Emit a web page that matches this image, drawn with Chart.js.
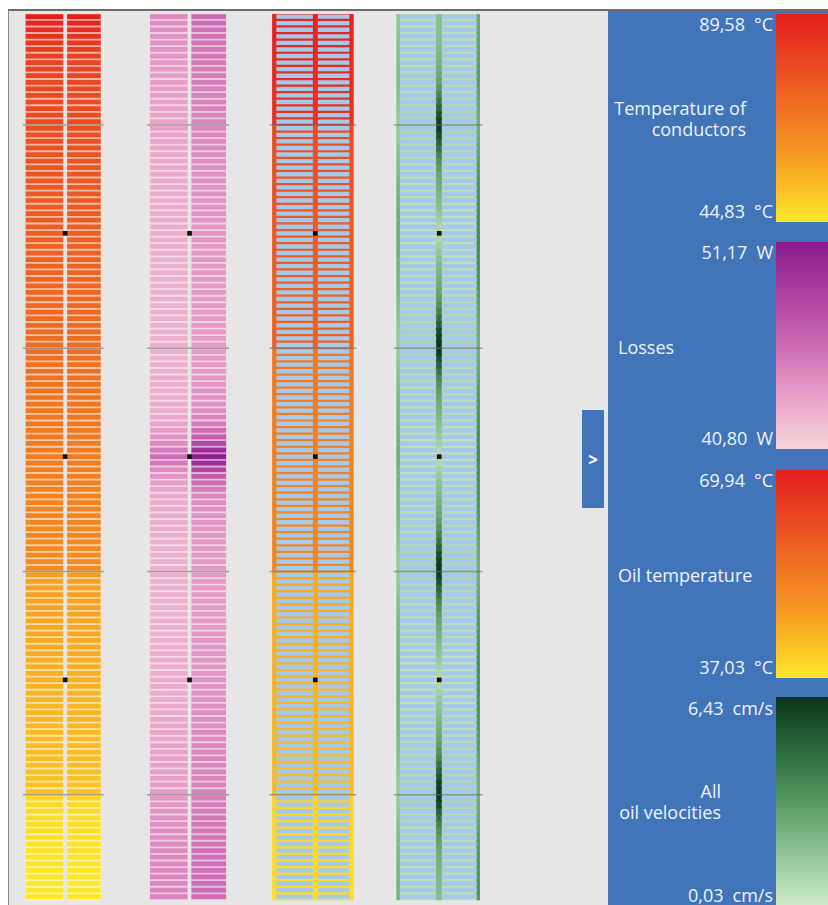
<!DOCTYPE html>
<html>
<head>
<meta charset="utf-8">
<script src="https://cdn.jsdelivr.net/npm/chart.js@4.4.1/dist/chart.umd.min.js"></script>
<style>
  html, body { margin: 0; padding: 0; background: #fff; }
  body { width: 828px; height: 905px; position: relative; overflow: hidden; font-family: "Open Sans", "Noto Sans", sans-serif; }
  #frame { position: absolute; left: 8px; top: 9px; width: 820px; height: 896px; background: #e6e6e6;
           border-top: 2px solid #6c6c6c; border-left: 1px solid #8a8a8a; box-sizing: border-box; }
  #plot { position: absolute; left: 0; top: 10px; }
  #panel { position: absolute; left: 608px; top: 11px; width: 220px; height: 894px; background: #4274ba; }
  .cbar { position: absolute; left: 776px; width: 52px; }
  .lbl { position: absolute; color: #eef3fb; font-size: 18px; line-height: 21px; white-space: pre; }
  .val { right: 55px; text-align: right; }
  .unit { margin-left: 9px; }
  #toggle { position: absolute; left: 582px; top: 410px; width: 22px; height: 98px; background: #4274ba;
            color: #fff; font: bold 17px "Open Sans", sans-serif; display: flex; align-items: center; justify-content: center; }
</style>
</head>
<body>
<div id="frame"></div>
<canvas id="plot" width="608" height="895"></canvas>
<div id="toggle">&gt;</div>
<div id="panel"></div>

<div class="cbar" id="bar-temp" style="top:14px;height:208px"></div>
<div class="cbar" id="bar-loss" style="top:242px;height:207px"></div>
<div class="cbar" id="bar-oil"  style="top:470px;height:208px"></div>
<div class="cbar" id="bar-vel"  style="top:697px;height:208px"></div>

<div class="lbl val" id="temp-max" style="top:14px"></div>
<div class="lbl val" id="temp-min" style="top:201px"></div>
<div class="lbl val" id="loss-max" style="top:242px"></div>
<div class="lbl val" id="loss-min" style="top:428px"></div>
<div class="lbl val" id="oil-max"  style="top:470px"></div>
<div class="lbl val" id="oil-min"  style="top:657px"></div>
<div class="lbl val" id="vel-max"  style="top:698px"></div>
<div class="lbl val" id="vel-min"  style="top:885px"></div>

<div class="lbl" style="right:82px;top:98px;text-align:right">Temperature of
conductors</div>
<div class="lbl" style="left:618px;top:337px">Losses</div>
<div class="lbl" style="left:618px;top:565px">Oil temperature</div>
<div class="lbl" style="right:107px;top:781px;text-align:right">All
oil velocities</div>

<script>
// colour scale limits (as printed on the legend)
const tempRange = [44.83, 89.58];
const lossRange = [40.80, 51.17];
const oilRange  = [37.03, 69.94];
const velRange  = [0.03, 6.43];

// one value per disc row, top to bottom (135 rows, 5 sections)
const tempRows = [
  89.4, 87.5, 85.8, 84.4, 83.2, 82.2, 81.4, 80.7, 80.1, 79.6,
  79.2, 78.8, 78.5, 78.2, 78.0, 77.8, 77.6,
  77.3, 77.0, 76.8, 76.5, 76.3, 76.0, 75.8, 75.5, 75.3, 75.0,
  74.8, 74.5, 74.3, 74.0, 73.8, 73.6, 73.4, 73.2, 72.9, 72.7,
  72.5, 72.3, 72.0, 71.8, 71.6, 71.4, 71.2, 71.0, 70.8, 70.6,
  70.4, 70.2, 70.0, 69.8,
  69.4, 69.2, 69.0, 68.8, 68.6, 68.4, 68.2, 68.0, 67.8, 67.6,
  67.4, 67.2, 67.0, 66.8, 66.6, 66.4, 66.2, 66.0, 65.8, 65.6,
  65.4, 65.2, 65.0, 64.8, 64.6, 64.4, 64.2, 64.0, 63.8, 63.6,
  63.4, 63.2, 63.0, 62.8,
  58.6, 58.3, 58.0, 57.8, 57.5, 57.2, 57.0, 56.7, 56.5, 56.2,
  56.0, 55.8, 55.5, 55.3, 55.1, 54.9, 54.7, 54.5, 54.3, 54.1,
  53.9, 53.7, 53.5, 53.3, 53.1, 52.9, 52.7, 52.6, 52.4, 52.2,
  52.1, 51.9, 51.8, 51.6,
  48.0, 47.6, 47.3, 47.0, 46.7, 46.5, 46.3, 46.1, 45.9, 45.7,
  45.6, 45.4, 45.3, 45.2, 45.1, 45.0
];

const lossLeft = [
  44.6, 44.4, 44.3, 44.2, 44.1, 44.0, 43.9, 43.8, 43.8, 43.7,
  43.7, 43.6, 43.6, 43.5, 43.5, 43.4, 43.4,
  43.4, 43.3, 43.3, 43.2, 43.2, 43.1, 43.1, 43.1, 43.0, 43.0,
  43.0, 42.9, 42.9, 42.9, 42.9, 42.8, 42.8, 42.8, 42.8, 42.8,
  42.7, 42.7, 42.7, 42.7, 42.7, 42.7, 42.7, 42.7, 42.7, 42.7,
  42.7, 42.7, 42.7, 42.7,
  42.7, 42.7, 42.7, 42.7, 42.8, 42.8, 42.8, 42.9, 42.9, 43.0,
  43.1, 43.3, 43.6, 44.0, 44.6, 45.3, 45.8, 45.3, 44.6, 44.0,
  43.6, 43.3, 43.1, 43.0, 42.9, 42.9, 42.8, 42.8, 42.8, 42.7,
  42.7, 42.7, 42.7, 42.7,
  42.7, 42.7, 42.7, 42.7, 42.7, 42.7, 42.7, 42.7, 42.7, 42.7,
  42.8, 42.8, 42.8, 42.8, 42.9, 42.9, 42.9, 43.0, 43.0, 43.0,
  43.1, 43.1, 43.2, 43.2, 43.3, 43.3, 43.4, 43.4, 43.5, 43.5,
  43.6, 43.6, 43.7, 43.7,
  43.8, 43.9, 44.0, 44.1, 44.2, 44.3, 44.4, 44.4, 44.5, 44.5,
  44.6, 44.6, 44.7, 44.7, 44.8, 44.8
];

const lossRight = [
  46.2, 46.0, 45.8, 45.7, 45.6, 45.5, 45.4, 45.3, 45.2, 45.2,
  45.1, 45.0, 45.0, 44.9, 44.9, 44.8, 44.8,
  44.7, 44.6, 44.5, 44.5, 44.4, 44.3, 44.3, 44.2, 44.2, 44.1,
  44.1, 44.0, 44.0, 44.0, 43.9, 43.9, 43.9, 43.9, 43.8, 43.8,
  43.8, 43.8, 43.8, 43.8, 43.8, 43.8, 43.8, 43.8, 43.8, 43.8,
  43.8, 43.8, 43.8, 43.8,
  43.8, 43.8, 43.8, 43.8, 43.9, 43.9, 44.0, 44.1, 44.2, 44.4,
  44.7, 45.2, 45.9, 46.9, 48.3, 49.8, 50.9, 49.8, 48.3, 46.9,
  45.9, 45.2, 44.7, 44.4, 44.2, 44.1, 44.0, 43.9, 43.9, 43.8,
  43.8, 43.8, 43.8, 43.8,
  43.8, 43.8, 43.8, 43.8, 43.8, 43.8, 43.8, 43.8, 43.8, 43.8,
  43.9, 43.9, 43.9, 44.0, 44.0, 44.0, 44.1, 44.1, 44.2, 44.2,
  44.3, 44.3, 44.4, 44.4, 44.5, 44.5, 44.6, 44.6, 44.7, 44.7,
  44.8, 44.8, 44.9, 44.9,
  45.0, 45.1, 45.2, 45.3, 45.4, 45.5, 45.6, 45.6, 45.7, 45.7,
  45.8, 45.8, 45.9, 45.9, 46.0, 46.0
];

const oilRows = [
  69.5, 69.2, 68.9, 68.6, 68.4, 68.2, 68.0, 67.8, 67.6, 67.4,
  67.2, 67.0, 66.8, 66.6, 66.5, 66.4, 66.3,
  61.5, 61.3, 61.1, 60.9, 60.7, 60.5, 60.4, 60.2, 60.0, 59.9,
  59.7, 59.6, 59.4, 59.3, 59.1, 59.0, 58.9, 58.7, 58.6, 58.5,
  58.4, 58.3, 58.2, 58.1, 58.0, 57.9, 57.8, 57.7, 57.7, 57.6,
  57.5, 57.5, 57.4, 57.4,
  53.5, 53.4, 53.3, 53.2, 53.1, 53.0, 52.9, 52.8, 52.7, 52.6,
  52.5, 52.4, 52.3, 52.2, 52.1, 52.0, 51.9, 51.8, 51.8, 51.7,
  51.6, 51.5, 51.5, 51.4, 51.3, 51.2, 51.2, 51.1, 51.0, 51.0,
  50.9, 50.8, 50.8, 50.7,
  45.6, 45.5, 45.4, 45.3, 45.2, 45.1, 45.0, 44.9, 44.8, 44.7,
  44.6, 44.5, 44.4, 44.3, 44.2, 44.1, 44.0, 43.9, 43.8, 43.8,
  43.7, 43.6, 43.5, 43.5, 43.4, 43.3, 43.3, 43.2, 43.1, 43.1,
  43.0, 43.0, 42.9, 42.9,
  39.8, 39.7, 39.6, 39.5, 39.4, 39.3, 39.2, 39.1, 39.0, 38.9,
  38.8, 38.7, 38.6, 38.5, 38.4, 38.3
];

// cm/s in the horizontal ducts, the centre channel and the two edge channels
const velDuct = [
  0.5, 0.5, 0.5, 0.5, 0.5, 0.5, 0.5, 0.5, 0.5, 0.6,
  0.6, 0.6, 0.6, 0.7, 0.7, 0.8, 0.9,
  0.9, 0.8, 0.7, 0.7, 0.6, 0.6, 0.6, 0.5, 0.5, 0.5,
  0.5, 0.5, 0.4, 0.4, 0.4, 0.4, 0.4, 0.4, 0.4, 0.4,
  0.4, 0.5, 0.5, 0.5, 0.5, 0.5, 0.6, 0.6, 0.6, 0.7,
  0.7, 0.8, 0.8, 0.9,
  0.9, 0.8, 0.7, 0.7, 0.6, 0.6, 0.6, 0.5, 0.5, 0.5,
  0.5, 0.5, 0.4, 0.4, 0.4, 0.4, 0.4, 0.4, 0.4, 0.4,
  0.4, 0.5, 0.5, 0.5, 0.5, 0.5, 0.6, 0.6, 0.6, 0.7,
  0.7, 0.8, 0.8, 0.9,
  0.9, 0.8, 0.7, 0.7, 0.6, 0.6, 0.6, 0.5, 0.5, 0.5,
  0.5, 0.5, 0.4, 0.4, 0.4, 0.4, 0.4, 0.4, 0.4, 0.4,
  0.4, 0.5, 0.5, 0.5, 0.5, 0.5, 0.6, 0.6, 0.6, 0.7,
  0.7, 0.8, 0.8, 0.9,
  0.9, 0.8, 0.7, 0.7, 0.6, 0.6, 0.6, 0.5, 0.5, 0.5,
  0.5, 0.5, 0.5, 0.5, 0.5, 0.5
];

const velCenter = [
  1.8, 1.8, 1.8, 1.9, 1.9, 2.0, 2.1, 2.2, 2.4, 2.6,
  2.9, 3.3, 3.8, 4.4, 5.0, 5.6, 6.2,
  6.3, 5.8, 5.2, 4.6, 4.0, 3.5, 3.1, 2.8, 2.6, 2.4,
  2.2, 2.0, 1.8, 1.5, 1.2, 0.9, 0.6, 0.9, 1.2, 1.5,
  1.8, 2.0, 2.2, 2.4, 2.6, 2.8, 3.1, 3.5, 4.0, 4.6,
  5.2, 5.8, 6.2, 6.4,
  6.3, 5.7, 5.1, 4.5, 3.9, 3.4, 3.0, 2.7, 2.5, 2.3,
  2.1, 1.9, 1.7, 1.4, 1.1, 0.8, 0.5, 0.8, 1.1, 1.4,
  1.7, 1.9, 2.1, 2.3, 2.5, 2.7, 3.0, 3.4, 3.9, 4.5,
  5.1, 5.7, 6.1, 6.3,
  6.2, 5.6, 5.0, 4.4, 3.9, 3.4, 3.0, 2.7, 2.5, 2.3,
  2.1, 1.9, 1.7, 1.4, 1.1, 0.8, 0.5, 0.8, 1.1, 1.4,
  1.7, 1.9, 2.1, 2.3, 2.5, 2.7, 3.0, 3.4, 3.9, 4.5,
  5.1, 5.6, 6.0, 6.2,
  6.3, 5.8, 5.2, 4.6, 4.0, 3.5, 3.1, 2.8, 2.6, 2.4,
  2.3, 2.2, 2.1, 2.0, 2.0, 1.9
];

const velEdgeL = [
  1.6, 1.6, 1.7, 1.7, 1.8, 1.8, 1.9, 1.9, 2.0, 2.0,
  2.0, 1.9, 1.8, 1.7, 1.6, 1.5, 1.4,
  1.4, 1.5, 1.6, 1.7, 1.8, 1.9, 2.0, 2.1, 2.2, 2.3,
  2.3, 2.4, 2.4, 2.5, 2.5, 2.5, 2.5, 2.5, 2.5, 2.5,
  2.4, 2.4, 2.3, 2.3, 2.2, 2.1, 2.0, 1.9, 1.8, 1.7,
  1.6, 1.5, 1.4, 1.4,
  1.4, 1.5, 1.6, 1.7, 1.8, 1.9, 2.0, 2.1, 2.2, 2.2,
  2.3, 2.3, 2.4, 2.4, 2.4, 2.5, 2.5, 2.5, 2.4, 2.4,
  2.4, 2.3, 2.3, 2.2, 2.2, 2.1, 2.0, 1.9, 1.8, 1.7,
  1.6, 1.5, 1.4, 1.4,
  1.4, 1.5, 1.6, 1.7, 1.8, 1.9, 2.0, 2.1, 2.1, 2.2,
  2.2, 2.3, 2.3, 2.4, 2.4, 2.4, 2.4, 2.4, 2.4, 2.3,
  2.3, 2.3, 2.2, 2.2, 2.1, 2.0, 2.0, 1.9, 1.8, 1.7,
  1.6, 1.5, 1.4, 1.4,
  1.4, 1.5, 1.6, 1.7, 1.8, 1.9, 2.0, 2.0, 2.1, 2.1,
  2.2, 2.2, 2.2, 2.3, 2.3, 2.3
];

const velEdgeR = [
  2.6, 2.6, 2.7, 2.7, 2.8, 2.8, 2.9, 2.9, 3.0, 3.0,
  3.0, 2.9, 2.8, 2.7, 2.6, 2.5, 2.4,
  2.4, 2.5, 2.6, 2.7, 2.8, 2.9, 3.0, 3.1, 3.2, 3.3,
  3.3, 3.4, 3.4, 3.5, 3.5, 3.5, 3.5, 3.5, 3.5, 3.5,
  3.4, 3.4, 3.3, 3.3, 3.2, 3.1, 3.0, 2.9, 2.8, 2.7,
  2.6, 2.5, 2.4, 2.4,
  2.4, 2.5, 2.6, 2.7, 2.8, 2.9, 3.0, 3.1, 3.2, 3.2,
  3.3, 3.3, 3.4, 3.4, 3.4, 3.5, 3.5, 3.5, 3.4, 3.4,
  3.4, 3.3, 3.3, 3.2, 3.2, 3.1, 3.0, 2.9, 2.8, 2.7,
  2.6, 2.5, 2.4, 2.4,
  2.4, 2.5, 2.6, 2.7, 2.8, 2.9, 3.0, 3.1, 3.1, 3.2,
  3.2, 3.3, 3.3, 3.4, 3.4, 3.4, 3.4, 3.4, 3.4, 3.3,
  3.3, 3.3, 3.2, 3.2, 3.1, 3.0, 3.0, 2.9, 2.8, 2.7,
  2.6, 2.5, 2.4, 2.4,
  2.4, 2.5, 2.6, 2.7, 2.8, 2.9, 3.0, 3.0, 3.1, 3.1,
  3.2, 3.2, 3.2, 3.3, 3.3, 3.3
];

// section boundaries (between disc rows) and the rows carrying a probe dot
const sectionEdges = [16.5, 50.5, 84.5, 118.5];
const probeRows = [33, 67, 101];

// colour ramps, low -> high
const heatStops = ['#fde72a', '#f8a923', '#f07822', '#ea4a22', '#e4201f'];
const lossStops = ['#f8d4da', '#e8a2c8', '#cc6cb4', '#ac42a0', '#8a1a8a'];
const flowStops = ['#cdeac6', '#8ec496', '#569860', '#2a6a3c', '#0a3519'];
const discBlue = '#a6c9ea';

// horizontal layout of the four winding columns (x scale units = px)
const layout = {
  temp: { left: [22, 60], right: [64, 98] },
  loss: { left: [148, 186], right: [190, 225] },
  oil:  { full: [272, 354], left: [276, 313], right: [318, 350] },
  vel:  { full: [398, 482], edgeL: [398, 401], center: [438, 443.5], edgeR: [479, 482], left: [401, 438], right: [443.5, 479] },
  spans: [[19, 101], [145, 228], [269, 357], [395, 485]],
  probeX: [62, 188, 315.5, 441]
};

function hexRgb(h) {
  return [1, 3, 5].map(i => parseInt(h.slice(i, i + 2), 16));
}

function ramp(stops, range, v) {
  let t = (v - range[0]) / (range[1] - range[0]);
  t = Math.max(0, Math.min(1, t)) * (stops.length - 1);
  const i = Math.min(stops.length - 2, Math.floor(t));
  const f = t - i;
  const a = hexRgb(stops[i]), b = hexRgb(stops[i + 1]);
  return a.map((x, k) => Math.round(x + (b[k] - x) * f));
}

const css  = c => `rgb(${c[0]},${c[1]},${c[2]})`;
const tint = (c, w) => css(c.map(x => Math.round(x + (255 - x) * w)));

const rows = tempRows.map((_, i) => i);

function bars(span, colors, pct, order) {
  return {
    type: 'bar',
    indexAxis: 'y',
    data: rows.map(r => ({ x: span, y: r })),
    backgroundColor: colors,
    borderWidth: 0,
    barPercentage: pct,
    categoryPercentage: 1,
    grouped: false,
    order: order
  };
}

const tempCol  = tempRows.map(v => ramp(heatStops, tempRange, v));
const lossLCol = lossLeft.map(v => ramp(lossStops, lossRange, v));
const lossRCol = lossRight.map(v => ramp(lossStops, lossRange, v));
const oilCol   = oilRows.map(v => css(ramp(heatStops, oilRange, v)));
const flow     = arr => arr.map(v => css(ramp(flowStops, velRange, v)));

const probePts = [];
layout.probeX.forEach(x => probeRows.forEach(r => probePts.push({ x: x, y: r })));

const datasets = [
  // conductor temperature
  bars(layout.temp.left,  tempCol.map(c => tint(c, 0.6)), 1, 3),
  bars(layout.temp.right, tempCol.map(c => tint(c, 0.6)), 1, 3),
  bars(layout.temp.left,  tempCol.map(css), 0.72, 1),
  bars(layout.temp.right, tempCol.map(css), 0.72, 1),
  // losses
  bars(layout.loss.left,  lossLCol.map(c => tint(c, 0.55)), 1, 3),
  bars(layout.loss.right, lossRCol.map(c => tint(c, 0.55)), 1, 3),
  bars(layout.loss.left,  lossLCol.map(css), 0.72, 1),
  bars(layout.loss.right, lossRCol.map(css), 0.72, 1),
  // oil temperature in the ducts, discs on top
  bars(layout.oil.full,  oilCol, 1, 3),
  bars(layout.oil.left,  rows.map(() => discBlue), 0.66, 1),
  bars(layout.oil.right, rows.map(() => discBlue), 0.66, 1),
  // oil velocities
  bars(layout.vel.full,   flow(velDuct), 1, 3),
  bars(layout.vel.edgeL,  flow(velEdgeL), 1, 2),
  bars(layout.vel.center, flow(velCenter), 1, 2),
  bars(layout.vel.edgeR,  flow(velEdgeR), 1, 2),
  bars(layout.vel.left,   rows.map(() => discBlue), 0.66, 1),
  bars(layout.vel.right,  rows.map(() => discBlue), 0.66, 1),
  {
    type: 'scatter',
    data: probePts,
    pointStyle: 'rect',
    pointRadius: 3.3,
    pointBorderWidth: 0,
    backgroundColor: '#111',
    order: 0
  }
];

const sectionLines = {
  id: 'sectionLines',
  afterDatasetsDraw(chart) {
    const { ctx, scales: { x, y } } = chart;
    ctx.save();
    ctx.strokeStyle = 'rgba(110,110,110,0.6)';
    ctx.lineWidth = 1.6;
    sectionEdges.forEach(r => {
      const py = y.getPixelForValue(r);
      layout.spans.forEach(([a, b]) => {
        ctx.beginPath();
        ctx.moveTo(x.getPixelForValue(a), py);
        ctx.lineTo(x.getPixelForValue(b), py);
        ctx.stroke();
      });
    });
    ctx.restore();
  }
};

new Chart(document.getElementById('plot'), {
  type: 'bar',
  data: { datasets },
  options: {
    responsive: false,
    animation: false,
    events: [],
    layout: { padding: 0 },
    plugins: { legend: { display: false }, tooltip: { enabled: false } },
    scales: {
      x: { type: 'linear', min: 0, max: 608, display: false, offset: false },
      y: { type: 'linear', min: -0.4, max: 134.67, reverse: true, display: false, offset: false,
           grid: { offset: false }, ticks: { includeBounds: false, stepSize: 20 } }
    }
  },
  plugins: [sectionLines]
});

// legend
const fmt = v => v.toFixed(2).replace('.', ',');
function setVal(id, v, unit) {
  document.getElementById(id).innerHTML = `<span>${fmt(v)}</span><span class="unit">${unit}</span>`;
}
setVal('temp-max', tempRange[1], '°C'); setVal('temp-min', tempRange[0], '°C');
setVal('loss-max', lossRange[1], 'W');  setVal('loss-min', lossRange[0], 'W');
setVal('oil-max',  oilRange[1], '°C');  setVal('oil-min',  oilRange[0], '°C');
setVal('vel-max',  velRange[1], 'cm/s'); setVal('vel-min', velRange[0], 'cm/s');

const grad = stops => `linear-gradient(to top, ${stops.join(', ')})`;
document.getElementById('bar-temp').style.background = grad(heatStops);
document.getElementById('bar-loss').style.background = grad(lossStops);
document.getElementById('bar-oil').style.background  = grad(heatStops);
document.getElementById('bar-vel').style.background  = grad(flowStops);
</script>
</body>
</html>
